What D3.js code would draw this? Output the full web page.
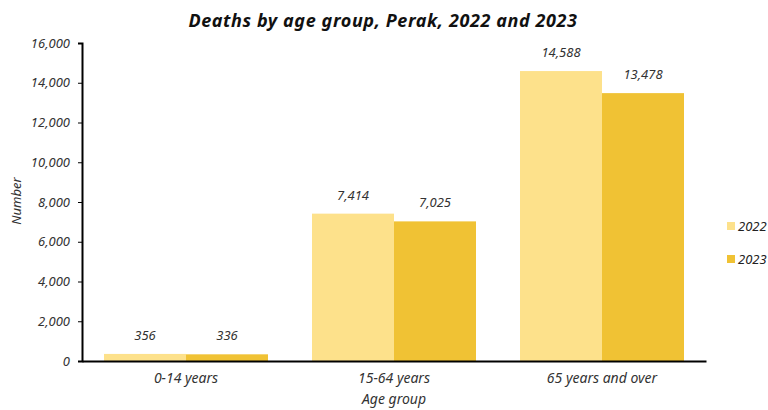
<!DOCTYPE html>
<html><head><meta charset="utf-8">
<script src="https://cdn.jsdelivr.net/npm/d3@7"></script>
<style>body{margin:0;background:#fff}svg{display:block}text{font-family:"Century Gothic","Noto Sans",sans-serif;font-style:italic}</style>
</head><body><svg id="c" width="768" height="410"></svg>
<script>
const categories = ["0-14 years","15-64 years","65 years and over"];
const seriesNames = ["2022","2023"];
const values2022 = [356, 7414, 14588];
const values2023 = [336, 7025, 13478];
const yTicks = [0,2000,4000,6000,8000,10000,12000,14000,16000];
const colors = ["#FDE18B","#F0C234"];

(function(){
const svg = d3.select("#c");
const mL = 82, mR = 706, mT = 43, mB = 361;
const x = d3.scaleBand().domain(categories).range([mL,mR]).padding(0);
const inner = d3.scaleBand().domain(seriesNames).range([0,164]).padding(0);
const y = d3.scaleLinear().domain([0,16000]).range([mB,mT]);
const fmt = d3.format(",");
const data = [values2022, values2023];

svg.append("text").attr("x",383).attr("y",27).attr("text-anchor","middle")
  .style("font-weight","bold").style("font-size","18px").style("letter-spacing","0.6px").attr("fill","#111")
  .text("Deaths by age group, Perak, 2022 and 2023");

seriesNames.forEach((s,si)=>{
  categories.forEach((c,ci)=>{
    const bx = x(c) + (x.bandwidth()-164)/2 + inner(s);
    svg.append("rect").attr("x",bx).attr("y",y(data[si][ci]))
      .attr("width",inner.bandwidth()).attr("height",mB-y(data[si][ci]))
      .attr("fill",colors[si]);
    svg.append("text").attr("x",bx+inner.bandwidth()/2).attr("y",y(data[si][ci])-14)
      .attr("text-anchor","middle").style("font-size","13px").attr("fill","#333")
      .text(fmt(data[si][ci]));
  });
});

const ya = svg.append("g").attr("transform",`translate(${mL},0)`)
  .call(d3.axisLeft(y).tickValues(yTicks).tickFormat(d=>fmt(d)).tickSize(4).tickPadding(8));
ya.select(".domain").attr("stroke","#000").attr("stroke-width",2);
ya.selectAll(".tick line").attr("stroke","#000");
ya.selectAll(".tick text").style("font-size","13px").attr("fill","#333").attr("font-family",null);

const xa = svg.append("g").attr("transform",`translate(0,${mB})`)
  .call(d3.axisBottom(x).tickSize(0).tickPadding(12));
xa.select(".domain").attr("stroke","#000").attr("stroke-width",2);
xa.selectAll(".tick text").style("font-size","14px").attr("fill","#333").attr("font-family",null);

svg.append("text").attr("x",394).attr("y",404).attr("text-anchor","middle")
  .style("font-size","14px").attr("fill","#333").text("Age group");
svg.append("text").attr("transform","translate(21,201) rotate(-90)").attr("text-anchor","middle")
  .style("font-size","13px").attr("fill","#333").text("Number");

seriesNames.forEach((s,i)=>{
  const ly = 226 + i*33;
  svg.append("rect").attr("x",727).attr("y",ly-4).attr("width",8).attr("height",8).attr("fill",colors[i]);
  svg.append("text").attr("x",738).attr("y",ly+5).style("font-size","13px").attr("fill","#222").text(s);
});
})();
</script></body></html>
